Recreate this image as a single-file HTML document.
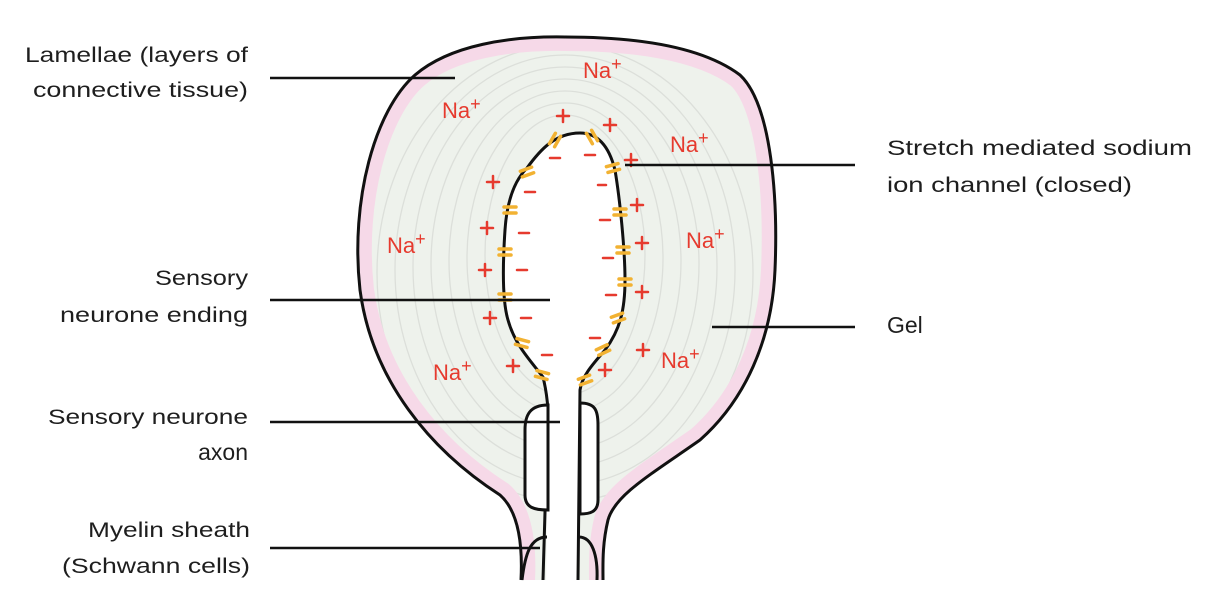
<!DOCTYPE html>
<html><head><meta charset="utf-8"><style>
html,body{margin:0;padding:0;background:#fff;}
svg{display:block;}
.l{font-family:"Liberation Sans",sans-serif;font-size:21px;fill:#1e1e1e;}
.na{font-family:"Liberation Sans",sans-serif;font-size:22px;fill:#e63a2e;}
.pm{stroke:#e63a2e;stroke-width:2.5;stroke-linecap:round;fill:none;}
.ch{stroke:#f2b232;stroke-width:3.5;stroke-linecap:round;fill:none;}
</style></head><body>
<svg width="1226" height="616" viewBox="0 0 1226 616" xmlns="http://www.w3.org/2000/svg">
<defs>
<path id="op" d="M521,580 C523,540 517,510 500,495 C430,450 372,380 360,290 C350,200 375,110 415,75 C450,45 510,36 565,37 C630,37 700,45 740,75 C772,105 778,200 775,270 C772,340 745,400 700,440 C650,475 615,495 608,520 C602,545 603,565 603,580"/>
<clipPath id="oc"><use href="#op"/></clipPath>
</defs>
<use href="#op" fill="#eef2ec"/>
<g clip-path="url(#oc)" fill="none" stroke="#dcdfda" stroke-width="1.3">
<ellipse cx="565" cy="255" rx="80" ry="140"/>
<ellipse cx="565" cy="258" rx="98" ry="155"/>
<ellipse cx="565" cy="261" rx="116" ry="170"/>
<ellipse cx="565" cy="264" rx="134" ry="185"/>
<ellipse cx="565" cy="267" rx="152" ry="200"/>
<ellipse cx="565" cy="270" rx="170" ry="215"/>
<ellipse cx="565" cy="273" rx="188" ry="228"/>
</g>
<g clip-path="url(#oc)"><use href="#op" fill="none" stroke="#f6d9e8" stroke-width="28"/></g>
<use href="#op" fill="none" stroke="#111" stroke-width="3"/>
<path d="M546,590 L548,410 C547,395 545,385 543,377 C530,360 515,345 508,320 C502,300 503,260 505,230 C507,200 515,180 527,168 C540,150 555,133 580,133 C600,133 610,150 615,170 C620,200 625,250 625,280 C625,310 620,330 605,350 C595,362 582,375 580,390 L578,590 Z" fill="#fff"/>
<path d="M543,580 L548,410 C547,395 545,385 543,377 C530,360 515,345 508,320 C502,300 503,260 505,230 C507,200 515,180 527,168 C540,150 555,133 580,133 C600,133 610,150 615,170 C620,200 625,250 625,280 C625,310 620,330 605,350 C595,362 582,375 580,390 L578,580" fill="none" stroke="#111" stroke-width="3"/>
<path d="M548,405 C530,405 525,415 525,430 L525,495 C525,508 535,510 548,510 Z" fill="#fff" stroke="#111" stroke-width="3"/>
<path d="M580,403 C595,403 598,410 598,425 L598,500 C598,512 590,514 580,514 Z" fill="#fff" stroke="#111" stroke-width="3"/>
<path d="M522,580 C525,555 530,537 547,537" fill="none" stroke="#111" stroke-width="3"/>
<path d="M597,580 C598,555 592,537 579,537" fill="none" stroke="#111" stroke-width="3"/>
<g class="ch">
<g transform="translate(555,140) rotate(-60)"><line x1="-6" y1="-3" x2="6" y2="-3"/><line x1="-6" y1="3" x2="6" y2="3"/></g>
<g transform="translate(592,137) rotate(60)"><line x1="-6" y1="-3" x2="6" y2="-3"/><line x1="-6" y1="3" x2="6" y2="3"/></g>
<g transform="translate(613,168) rotate(-15)"><line x1="-6" y1="-3" x2="6" y2="-3"/><line x1="-6" y1="3" x2="6" y2="3"/></g>
<g transform="translate(527,172) rotate(-20)"><line x1="-6" y1="-3" x2="6" y2="-3"/><line x1="-6" y1="3" x2="6" y2="3"/></g>
<g transform="translate(510,210)"><line x1="-6" y1="-3" x2="6" y2="-3"/><line x1="-6" y1="3" x2="6" y2="3"/></g>
<g transform="translate(505,252)"><line x1="-6" y1="-3" x2="6" y2="-3"/><line x1="-6" y1="3" x2="6" y2="3"/></g>
<g transform="translate(505,297)"><line x1="-6" y1="-3" x2="6" y2="-3"/><line x1="-6" y1="3" x2="6" y2="3"/></g>
<g transform="translate(522,343) rotate(15)"><line x1="-6" y1="-3" x2="6" y2="-3"/><line x1="-6" y1="3" x2="6" y2="3"/></g>
<g transform="translate(542,375) rotate(15)"><line x1="-6" y1="-3" x2="6" y2="-3"/><line x1="-6" y1="3" x2="6" y2="3"/></g>
<g transform="translate(620,212)"><line x1="-6" y1="-3" x2="6" y2="-3"/><line x1="-6" y1="3" x2="6" y2="3"/></g>
<g transform="translate(623,250)"><line x1="-6" y1="-3" x2="6" y2="-3"/><line x1="-6" y1="3" x2="6" y2="3"/></g>
<g transform="translate(625,282)"><line x1="-6" y1="-3" x2="6" y2="-3"/><line x1="-6" y1="3" x2="6" y2="3"/></g>
<g transform="translate(618,318) rotate(-20)"><line x1="-6" y1="-3" x2="6" y2="-3"/><line x1="-6" y1="3" x2="6" y2="3"/></g>
<g transform="translate(603,350) rotate(-25)"><line x1="-6" y1="-3" x2="6" y2="-3"/><line x1="-6" y1="3" x2="6" y2="3"/></g>
<g transform="translate(585,380) rotate(-20)"><line x1="-6" y1="-3" x2="6" y2="-3"/><line x1="-6" y1="3" x2="6" y2="3"/></g>
</g>
<g class="pm">
<path d="M557,116h12M563,110v12"/><path d="M604,125h12M610,119v12"/><path d="M487,182h12M493,176v12"/>
<path d="M481,228h12M487,222v12"/><path d="M479,270h12M485,264v12"/><path d="M484,318h12M490,312v12"/>
<path d="M507,366h12M513,360v12"/><path d="M599,370h12M605,364v12"/><path d="M637,350h12M643,344v12"/>
<path d="M636,292h12M642,286v12"/><path d="M636,243h12M642,237v12"/><path d="M631,205h12M637,199v12"/>
<path d="M625,160h12M631,154v12"/>
</g>
<g class="pm">
<path d="M550,158h10"/><path d="M585,155h10"/><path d="M525,192h10"/><path d="M519,233h10"/><path d="M517,270h10"/>
<path d="M521,318h10"/><path d="M542,355h10"/><path d="M598,185h8"/><path d="M600,220h10"/><path d="M603,258h10"/>
<path d="M606,295h10"/><path d="M590,338h10"/>
</g>
<text class="na" x="583" y="78">Na<tspan dy="-8" font-size="18">+</tspan></text>
<text class="na" x="442" y="118">Na<tspan dy="-8" font-size="18">+</tspan></text>
<text class="na" x="670" y="152">Na<tspan dy="-8" font-size="18">+</tspan></text>
<text class="na" x="387" y="253">Na<tspan dy="-8" font-size="18">+</tspan></text>
<text class="na" x="686" y="248">Na<tspan dy="-8" font-size="18">+</tspan></text>
<text class="na" x="433" y="380">Na<tspan dy="-8" font-size="18">+</tspan></text>
<text class="na" x="661" y="368">Na<tspan dy="-8" font-size="18">+</tspan></text>
<g stroke="#111" stroke-width="2.5">
<line x1="270" y1="78" x2="455" y2="78"/>
<line x1="270" y1="300" x2="550" y2="300"/>
<line x1="270" y1="422" x2="560" y2="422"/>
<line x1="270" y1="548" x2="540" y2="548"/>
<line x1="625" y1="165" x2="855" y2="165"/>
<line x1="712" y1="327" x2="855" y2="327"/>
</g>
<g class="l">
<text x="25" y="62" textLength="223" lengthAdjust="spacingAndGlyphs">Lamellae (layers of</text>
<text x="33" y="97" textLength="215" lengthAdjust="spacingAndGlyphs">connective tissue)</text>
<text x="155" y="285" textLength="93" lengthAdjust="spacingAndGlyphs">Sensory</text>
<text x="60" y="322" textLength="188" lengthAdjust="spacingAndGlyphs">neurone ending</text>
<text x="48" y="424" textLength="200" lengthAdjust="spacingAndGlyphs">Sensory neurone</text>
<text x="248" y="460" text-anchor="end" font-size="23">axon</text>
<text x="88" y="537" textLength="162" lengthAdjust="spacingAndGlyphs">Myelin sheath</text>
<text x="62" y="573" textLength="188" lengthAdjust="spacingAndGlyphs">(Schwann cells)</text>
<text x="887" y="155" textLength="305" lengthAdjust="spacingAndGlyphs">Stretch mediated sodium</text>
<text x="887" y="192" textLength="245" lengthAdjust="spacingAndGlyphs">ion channel (closed)</text>
<text x="887" y="333" font-size="23">Gel</text>
</g>
</svg>
</body></html>
